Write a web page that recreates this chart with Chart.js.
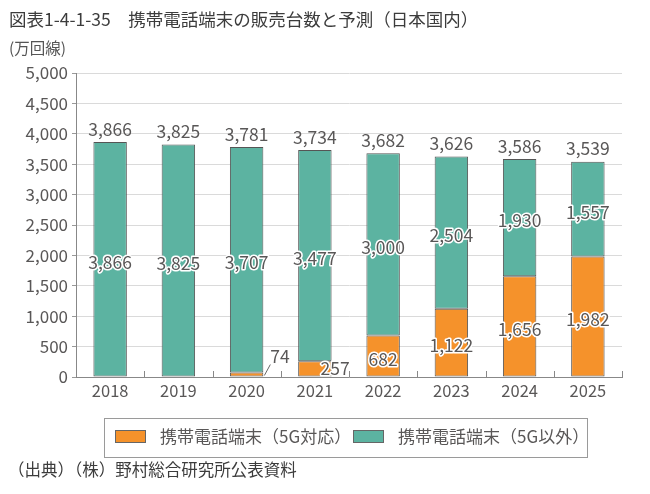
<!DOCTYPE html>
<html><head><meta charset="utf-8">
<script src="https://cdn.jsdelivr.net/npm/chart.js@4/dist/chart.umd.min.js"></script>
<style>
html,body{margin:0;padding:0;background:#fff;width:650px;height:494px;overflow:hidden;font-family:'Noto Sans CJK JP',sans-serif;}
#wrap{position:absolute;left:0;top:0;width:650px;height:494px;}
.t{position:absolute;white-space:nowrap;color:#3c3c3c;line-height:1;}
</style></head><body>
<div id="wrap"><canvas id="c" width="650" height="494"></canvas></div>
<div class="t" style="left:9px;top:10px;font-size:17.5px;">図表1-4-1-35　携帯電話端末の販売台数と予測（日本国内）</div>
<div class="t" style="left:9px;top:40px;font-size:15.5px;color:#555;">(万回線)</div>
<div class="t" style="left:8px;top:461px;font-size:16.5px;">（出典）（株）野村総合研究所公表資料</div>
<script>
const years = ['2018','2019','2020','2021','2022','2023','2024','2025'];
const seriesNames = ['携帯電話端末（5G対応）','携帯電話端末（5G以外）'];
const fiveG = [0, 0, 74, 257, 682, 1122, 1656, 1982];
const nonFiveG = [3866, 3825, 3707, 3477, 3000, 2504, 1930, 1557];
const yTicks = {min:0, max:5000, step:500};

const ORANGE = '#F5922B', TEAL = '#5CB3A1', TXT = '#595757';
const fmt = v => v.toLocaleString('en-US');
const FONT = "'Noto Sans CJK JP', sans-serif";

const labelPlugin = {
  id: 'labels',
  afterDatasetsDraw(chart) {
    const ctx = chart.ctx;
    ctx.save();
    ctx.font = '17.5px ' + FONT;
    ctx.textBaseline = 'middle';
    ctx.lineJoin = 'round';
    chart.data.datasets.forEach((ds, di) => {
      const meta = chart.getDatasetMeta(di);
      meta.data.forEach((bar, i) => {
        const v = ds.data[i];
        if (!v) return;
        const h = Math.abs(bar.base - bar.y);
        const cy = (bar.y + bar.base) / 2;
        const right = bar.x + bar.width / 2;
        if (h < 8) {
          ctx.strokeStyle = '#666'; ctx.lineWidth = 1;
          ctx.beginPath(); ctx.moveTo(right + 1, bar.base - 1); ctx.lineTo(right + 7, bar.base - 12); ctx.stroke();
          ctx.textAlign = 'left'; ctx.fillStyle = TXT;
          ctx.fillText(fmt(v), right + 7, bar.base - 20);
        } else if (h < 20) {
          ctx.textAlign = 'left';
          ctx.strokeStyle = '#fff'; ctx.lineWidth = 3;
          ctx.strokeText(fmt(v), right - 11, cy - 1);
          ctx.fillStyle = TXT; ctx.fillText(fmt(v), right - 11, cy - 1);
        } else {
          ctx.textAlign = 'center';
          ctx.strokeStyle = '#fff'; ctx.lineWidth = 3;
          ctx.strokeText(fmt(v), bar.x, cy + 3);
          ctx.fillStyle = TXT; ctx.fillText(fmt(v), bar.x, cy + 3);
        }
      });
    });
    const ys = chart.scales.y;
    const m0 = chart.getDatasetMeta(0);
    ctx.textAlign = 'center'; ctx.fillStyle = TXT;
    years.forEach((_, i) => {
      const tot = fiveG[i] + nonFiveG[i];
      ctx.fillText(fmt(tot), m0.data[i].x, ys.getPixelForValue(tot) - 13);
    });
    const ca = chart.chartArea;
    const step = (ca.right - ca.left) / years.length;
    ctx.strokeStyle = '#888'; ctx.lineWidth = 1;
    for (let k = 1; k <= years.length; k++) {
      const x = Math.round(ca.left + step * k) + 0.5;
      ctx.beginPath(); ctx.moveTo(x, ca.bottom); ctx.lineTo(x, ca.bottom - 6); ctx.stroke();
    }
    ctx.restore();
  }
};

const legendPlugin = {
  id: 'boxLegend',
  afterDraw(chart) {
    const ctx = chart.ctx;
    ctx.save();
    ctx.strokeStyle = '#9a9a9a'; ctx.lineWidth = 1;
    ctx.strokeRect(104.5, 418.5, 483, 39);
    const items = [{x:115, tx:160}, {x:353, tx:398}];
    ctx.font = '17px ' + FONT; ctx.textBaseline = 'middle'; ctx.textAlign = 'left';
    chart.data.datasets.forEach((ds, i) => {
      ctx.fillStyle = ds.backgroundColor;
      ctx.fillRect(items[i].x, 430, 30, 12);
      ctx.strokeStyle = '#666';
      ctx.strokeRect(items[i].x + 0.5, 430.5, 30, 12);
      ctx.fillStyle = TXT;
      ctx.fillText(ds.label, items[i].tx, 437);
    });
    ctx.restore();
  }
};

Chart.defaults.font.family = FONT;
new Chart(document.getElementById('c'), {
  type: 'bar',
  data: {
    labels: years,
    datasets: [
      {label: seriesNames[0], data: fiveG, backgroundColor: ORANGE, borderColor: '#555',
       borderWidth: c => (c.raw ? 1 : 0), borderSkipped: false, barPercentage: 0.49, categoryPercentage: 1},
      {label: seriesNames[1], data: nonFiveG, backgroundColor: TEAL, borderColor: '#555',
       borderWidth: 1, borderSkipped: false, barPercentage: 0.49, categoryPercentage: 1}
    ]
  },
  options: {
    responsive: false, animation: false, devicePixelRatio: 1,
    layout: {padding: {top: 73, left: 0, right: 28, bottom: 87}},
    plugins: {legend: {display: false}, title: {display: false}, tooltip: {enabled: false}},
    scales: {
      x: {stacked: true,
          grid: {display: false, drawTicks: false},
          border: {display: true, color: '#888'},
          ticks: {color: TXT, font: {size: 16.5}, padding: 4},
          afterFit: s => { s.height = 30; }},
      y: {stacked: true, min: yTicks.min, max: yTicks.max,
          grid: {color: '#dadada', tickLength: 4, tickColor: '#999'},
          border: {display: true, color: '#888'},
          ticks: {stepSize: yTicks.step, color: TXT, font: {size: 17}, padding: 4, callback: v => fmt(v)},
          afterFit: s => { s.width = 76; }}
    }
  },
  plugins: [labelPlugin, legendPlugin]
});
</script>
</body></html>
